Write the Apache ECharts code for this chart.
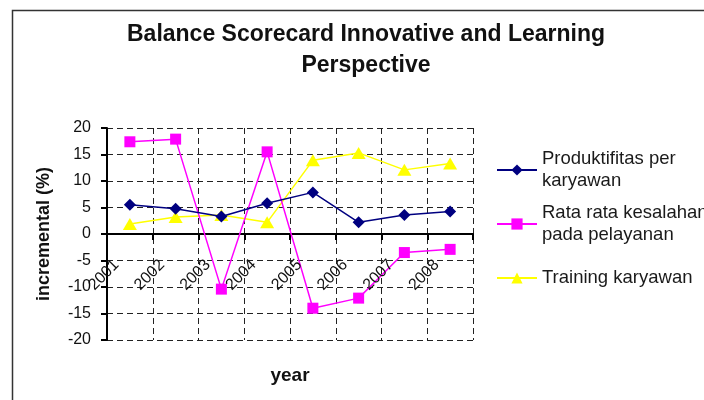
<!DOCTYPE html>
<html>
<head>
<meta charset="utf-8">
<script src="https://cdn.jsdelivr.net/npm/echarts@6/dist/echarts.min.js"></script>
<style>
html,body{margin:0;padding:0;background:#fff;}
#c{width:704px;height:400px;}
</style>
</head>
<body>
<div id="c"></div>
<script>
const categories = ['2001', '2002', '2003', '2004', '2005', '2006', '2007', '2008'];
const produktifitas = [5.5, 4.75, 3.3, 5.8, 7.85, 2.2, 3.6, 4.25];
const rataRata = [17.4, 17.9, -10.4, 15.5, -14.0, -12.1, -3.5, -2.9];
const training = [1.9, 3.2, 3.6, 2.2, 13.9, 15.3, 12.1, 13.3];
const seriesNames = ['Produktifitas per\nkaryawan', 'Rata rata kesalahan\npada pelayanan', 'Training karyawan'];
const yMin = -20, yMax = 20, yStep = 5;

const FONT = '"Liberation Sans", Arial, sans-serif';
const chart = echarts.init(document.getElementById('c'), null, {renderer: 'canvas'});
const dash = [6, 4];
chart.setOption({
  animation: false,
  backgroundColor: '#ffffff',
  graphic: [{
    type: 'rect', left: 10, top: 8, z: -10,
    shape: {width: 760, height: 460},
    style: {fill: 'none', stroke: '#333', lineWidth: 1.5}
  }],
  title: {
    text: 'Balance Scorecard Innovative and Learning\nPerspective',
    left: 366, top: 19, textAlign: 'center', padding: 0,
    textStyle: {fontFamily: FONT, fontSize: 23, fontWeight: 'bold', color: '#111', lineHeight: 31}
  },
  legend: {
    orient: 'vertical', left: 496, top: 137, itemGap: -12, padding: 0,
    itemWidth: 40, itemHeight: 14,
    textStyle: {fontFamily: FONT, fontSize: 18.5, color: '#1a1a1a', lineHeight: 22},
    data: [
      {name: seriesNames[0], textStyle: {padding: [22, 0, 0, 0]}},
      {name: seriesNames[1], textStyle: {padding: [22, 0, 0, 0]}},
      {name: seriesNames[2], textStyle: {padding: [22, 0, 22, 0]}}
    ]
  },
  grid: {left: 107, right: 231, top: 128, bottom: 60, containLabel: false, outerBoundsMode: 'none'},
  xAxis: [{
    type: 'category', data: categories, boundaryGap: true,
    axisLine: {onZero: true, lineStyle: {color: '#000', width: 2}},
    axisTick: {show: true, length: 6, lineStyle: {color: '#000', width: 2}},
    axisLabel: {show: false},
    splitLine: {show: true, lineStyle: {color: '#222', type: dash, width: 1}}
  }, {
    type: 'category', data: categories, boundaryGap: true, position: 'bottom', offset: -106, z: 10,
    name: 'year', nameLocation: 'middle', nameGap: 132,
    nameTextStyle: {fontFamily: FONT, fontSize: 19, fontWeight: 'bold', color: '#111'},
    axisLine: {show: false, onZero: false},
    axisTick: {show: false},
    axisLabel: {interval: 0, rotate: 45, margin: 15, padding: [0, 19, 0, 0],
      fontFamily: FONT, fontSize: 16, color: '#111', hideOverlap: false},
    splitLine: {show: false}
  }],
  yAxis: {
    type: 'value', min: yMin, max: yMax, interval: yStep,
    name: 'incremental (%)', nameLocation: 'middle', nameGap: 54, nameRotate: 90,
    nameTextStyle: {fontFamily: FONT, fontSize: 18, fontWeight: 'bold', color: '#111'},
    axisLine: {show: true, lineStyle: {color: '#000', width: 2}},
    axisTick: {show: true, length: 6, lineStyle: {color: '#000', width: 2}},
    axisLabel: {margin: 16, fontFamily: FONT, fontSize: 16, color: '#111'},
    splitLine: {show: true, lineStyle: {color: '#222', type: dash, width: 1}}
  },
  series: [
    {name: seriesNames[0], type: 'line', data: produktifitas, symbol: 'diamond', symbolSize: [12, 12],
      itemStyle: {color: '#000080'}, lineStyle: {color: '#000080', width: 1.5}, z: 3},
    {name: seriesNames[1], type: 'line', data: rataRata, symbol: 'rect', symbolSize: [11, 11],
      itemStyle: {color: '#ff00ff'}, lineStyle: {color: '#ff00ff', width: 1.5}, z: 2},
    {name: seriesNames[2], type: 'line', data: training, symbol: 'triangle', symbolSize: [14, 12],
      itemStyle: {color: '#ffff00'}, lineStyle: {color: '#ffff00', width: 1.5}, z: 1}
  ]
});
</script>
</body>
</html>
